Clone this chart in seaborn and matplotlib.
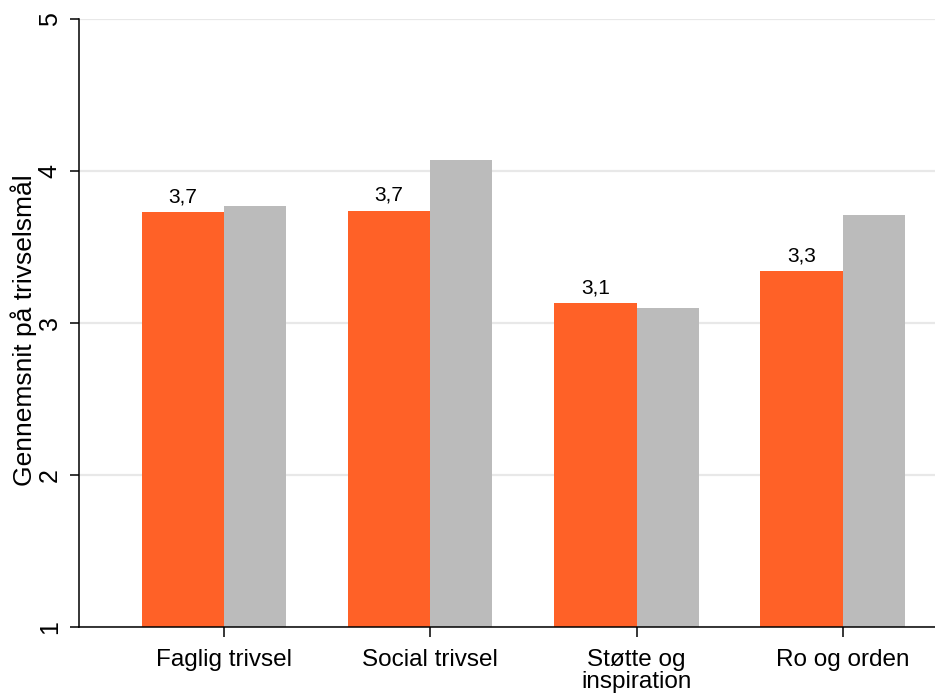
import matplotlib
matplotlib.use('Agg')
import matplotlib.pyplot as plt
import seaborn as sns
import pandas as pd

# data
categories = ['Faglig trivsel', 'Social trivsel', 'Støtte og\ninspiration', 'Ro og orden']
school_values = [3.73, 3.74, 3.13, 3.34]
national_values = [3.77, 4.07, 3.10, 3.71]
y_ticks = [1, 2, 3, 4, 5]

ORANGE = '#FF6127'
GRAY = '#BBBBBB'

sns.set_theme(style='white')
plt.rcParams['font.family'] = ['Liberation Sans', 'DejaVu Sans']
plt.rcParams['text.color'] = 'black'
plt.rcParams['axes.labelcolor'] = 'black'
plt.rcParams['xtick.color'] = 'black'
plt.rcParams['ytick.color'] = 'black'

df = pd.DataFrame({'kategori': categories,
                   'skole': school_values,
                   'land': national_values})

fig = plt.figure(figsize=(9.35, 6.94), dpi=100)
ax = fig.add_axes([79 / 935, 1 - 627 / 694, 1 - 79 / 935, (627 - 19) / 694])

# orange bars sit left of the tick, gray bars right of it
sns.barplot(data=df, x='kategori', y='skole', color=ORANGE, width=0.4,
            saturation=1, ax=ax, zorder=2)
n_orange = len(ax.patches)
sns.barplot(data=df, x='kategori', y='land', color=GRAY, width=0.3,
            saturation=1, ax=ax, zorder=2)

for i, p in enumerate(ax.patches):
    if i < n_orange:
        p.set_x(p.get_x() - 0.2)
    else:
        p.set_x(p.get_x() + 0.15)
    p.set_linewidth(0)

labels = [f'{v:.1f}'.replace('.', ',') for v in school_values]
ax.bar_label(ax.containers[0], labels=labels, padding=4, fontsize=15, color='black')

ax.set_ylim(1, 5)
ax.set_xlim(-0.703, 3.446)
ax.set_yticks(y_ticks)
ax.set_yticklabels([str(t) for t in y_ticks], rotation=90, va='center')
ax.yaxis.grid(True, color='#E8E8E8', linewidth=1.6, zorder=0)
ax.set_axisbelow(True)

ax.tick_params(axis='y', length=6.5, width=1.1, pad=6, labelsize=18, left=True)
ax.tick_params(axis='x', length=7, width=1.1, pad=9, labelsize=17.5, bottom=True)
for lbl in ax.get_xticklabels():
    lbl.set_linespacing(1.0)

ax.set_xlabel('')
ax.set_ylabel('Gennemsnit på trivselsmål', fontsize=19)
ax.yaxis.set_label_coords(-0.049, 0.488)

sns.despine(ax=ax, top=True, right=True)
for side in ['left', 'bottom']:
    ax.spines[side].set_color('black')
    ax.spines[side].set_linewidth(1.1)

fig.savefig('out.png', dpi=100)
